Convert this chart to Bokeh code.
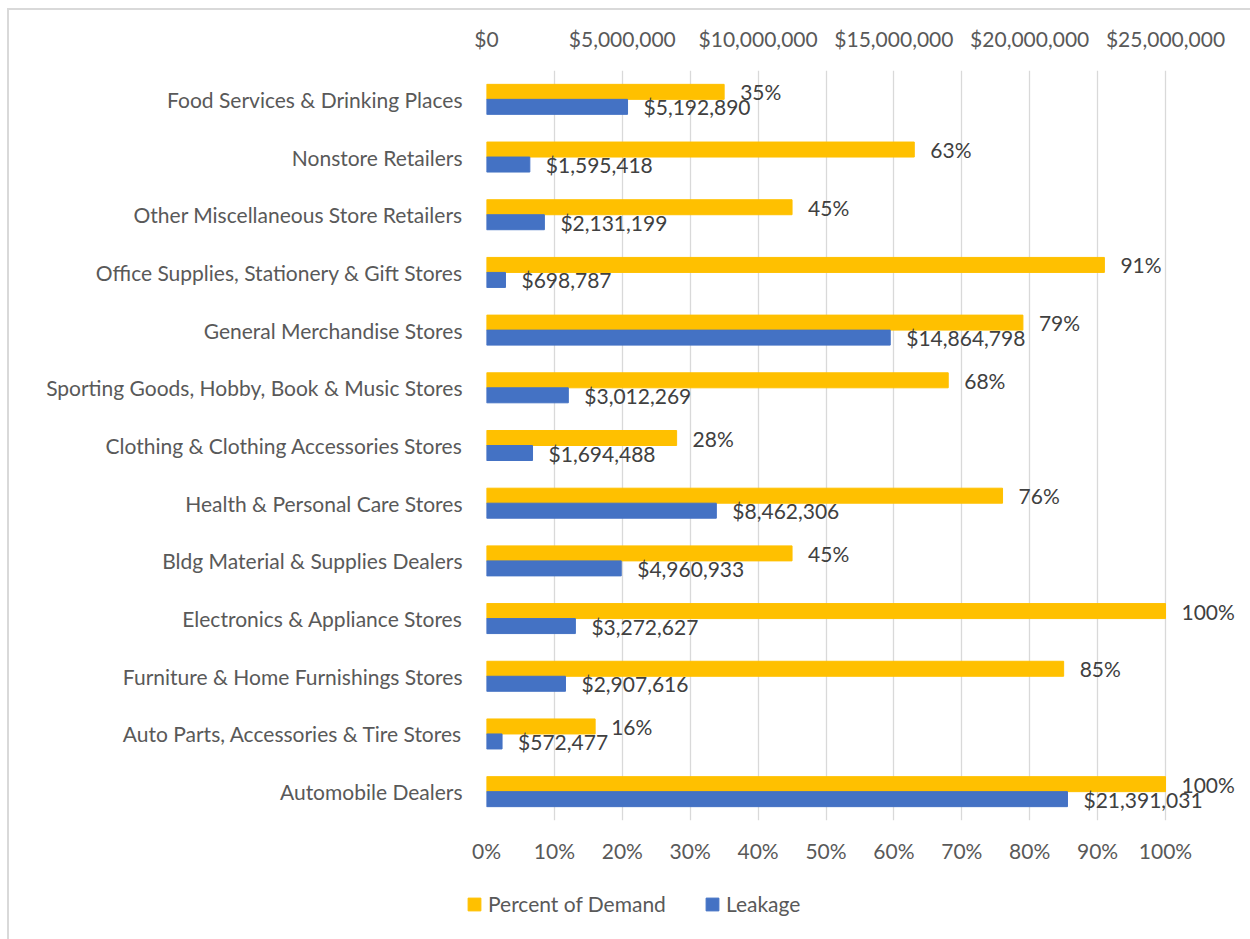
from bokeh.plotting import figure
from bokeh.layouts import column
from bokeh.models import (ColumnDataSource, Range1d, LinearAxis, FixedTicker,
                          NumeralTickFormatter, Legend, LegendItem, LabelSet)
from bokeh.core.properties import value
from bokeh.embed import file_html
from bokeh.resources import INLINE

categories = [
    "Food Services & Drinking Places",
    "Nonstore Retailers",
    "Other Miscellaneous Store Retailers",
    "Office Supplies, Stationery & Gift Stores",
    "General Merchandise Stores",
    "Sporting Goods, Hobby, Book & Music Stores",
    "Clothing & Clothing Accessories Stores",
    "Health & Personal Care Stores",
    "Bldg Material & Supplies Dealers",
    "Electronics & Appliance Stores",
    "Furniture & Home Furnishings Stores",
    "Auto Parts, Accessories & Tire Stores",
    "Automobile Dealers",
]
percent_of_demand = [35, 63, 45, 91, 79, 68, 28, 76, 45, 100, 85, 16, 100]
leakage = [5192890, 1595418, 2131199, 698787, 14864798, 3012269, 1694488,
           8462306, 4960933, 3272627, 2907616, 572477, 21391031]
pct_ticks = [0, 0.1, 0.2, 0.3, 0.4, 0.5, 0.6, 0.7, 0.8, 0.9, 1.0]
dollar_ticks = [0, 5000000, 10000000, 15000000, 20000000, 25000000]
series_names = ["Percent of Demand", "Leakage"]

FONT = "Lato"
FS = "21px"
YELLOW = "#FFC000"
BLUE = "#4472C4"
LABEL_C = "#595959"
DATA_C = "#404040"

# layout in pixels
W = 1250
H_MAIN = 880
H_LEG = 59
FRAME_L, FRAME_T, FRAME_B = 486, 70, 820
AXIS_PX = 679            # pixel length of 0..100 %
ext = (W - FRAME_L) / AXIS_PX   # frame runs to right edge so labels are not clipped

n = len(categories)
pos = [n - 1 - i for i in range(n)]  # top category at top

src = ColumnDataSource(dict(
    pos=pos,
    pos_y=[p + 0.13 for p in pos],
    pos_b=[p - 0.13 for p in pos],
    pct=[v / 100 for v in percent_of_demand],
    leak=leakage,
    pct_txt=[f"{v}%" for v in percent_of_demand],
    leak_txt=[f"${v:,}" for v in leakage],
))

p = figure(width=W, height=H_MAIN, output_backend="svg", toolbar_location=None,
           x_range=Range1d(0, ext), y_range=Range1d(-0.5, n - 0.5),
           min_border_left=FRAME_L, min_border_right=0, min_border_top=FRAME_T,
           min_border_bottom=H_MAIN - FRAME_B)
p.frame_align = False
p.extra_x_ranges = {"dollars": Range1d(0, dollar_ticks[-1] * ext)}
p.outline_line_color = None
p.background_fill_color = "white"
p.border_fill_color = None

p.hbar(y="pos_y", right="pct", left=0, height=0.26, color=YELLOW, source=src)
p.hbar(y="pos_b", right="leak", left=0, height=0.26, color=BLUE,
       source=src, x_range_name="dollars")

p.add_layout(LabelSet(x="pct", y="pos_y", text="pct_txt", source=src,
                      x_offset=16, y_offset=0, text_baseline="middle",
                      text_align="left", text_color=DATA_C,
                      text_font=value(FONT), text_font_size=value(FS)))
p.add_layout(LabelSet(x="leak", y="pos_b", text="leak_txt", source=src,
                      x_offset=16, y_offset=0, text_baseline="middle",
                      text_align="left", text_color=DATA_C,
                      text_font=value(FONT), text_font_size=value(FS),
                      x_range_name="dollars"))

# bottom percent axis
xa = p.xaxis[0]
xa.ticker = FixedTicker(ticks=pct_ticks)
xa.formatter = NumeralTickFormatter(format="0%")

# top dollar axis
top = LinearAxis(x_range_name="dollars",
                 ticker=FixedTicker(ticks=dollar_ticks),
                 formatter=NumeralTickFormatter(format="$0,0"))
p.add_layout(top, "above")

for ax in [xa, top]:
    ax.axis_line_color = None
    ax.major_tick_line_color = None
    ax.minor_tick_line_color = None
    ax.major_label_text_color = LABEL_C
    ax.major_label_text_font = FONT
    ax.major_label_text_font_size = FS
xa.major_label_standoff = 11
top.major_label_standoff = 14

ya = p.yaxis[0]
ya.ticker = FixedTicker(ticks=pos)
ya.major_label_overrides = {p_: c for p_, c in zip(pos, categories)}
ya.axis_line_color = None
ya.major_tick_line_color = None
ya.minor_tick_line_color = None
ya.major_label_text_color = LABEL_C
ya.major_label_text_font = FONT
ya.major_label_text_font_size = FS
ya.major_label_standoff = 18

p.ygrid.grid_line_color = None
p.xgrid.ticker = FixedTicker(ticks=pct_ticks)
p.xgrid.grid_line_color = "#d9d9d9"
p.xgrid.grid_line_width = 1.3

# legend strip
lg = figure(width=W, height=H_LEG, output_backend="svg", toolbar_location=None,
            x_range=Range1d(0, W), y_range=Range1d(0, H_LEG),
            x_axis_type=None, y_axis_type=None,
            min_border_left=0, min_border_right=0, min_border_top=0,
            min_border_bottom=0)
lg.frame_align = False
lg.outline_line_color = None
lg.grid.grid_line_color = None
lg.border_fill_color = None
lg.background_fill_color = None
# zero-length swatch carriers for the legend entries
ry = lg.hbar(y=[0], left=[0], right=[0], height=1, color=YELLOW)
rb = lg.hbar(y=[0], left=[0], right=[0], height=1, color=BLUE)
legend = Legend(items=[LegendItem(label=series_names[0], renderers=[ry]),
                       LegendItem(label=series_names[1], renderers=[rb])],
                orientation="horizontal", location=(466, 23))
legend.border_line_color = None
legend.background_fill_alpha = 0
legend.padding = 0
legend.margin = 0
legend.spacing = 38
legend.glyph_width = 16
legend.glyph_height = 16
legend.label_standoff = 6
legend.label_text_color = LABEL_C
legend.label_text_font = FONT
legend.label_text_font_size = FS
legend.label_height = 21
lg.add_layout(legend, "center")

layout = column(p, lg, spacing=0)
layout.styles = {"box-shadow": "inset 7px 8px 0 0 white, inset 9px 10px 0 0 #d9d9d9",
                 "background": "white"}

open("out.html", "w").write(file_html(layout, INLINE))
